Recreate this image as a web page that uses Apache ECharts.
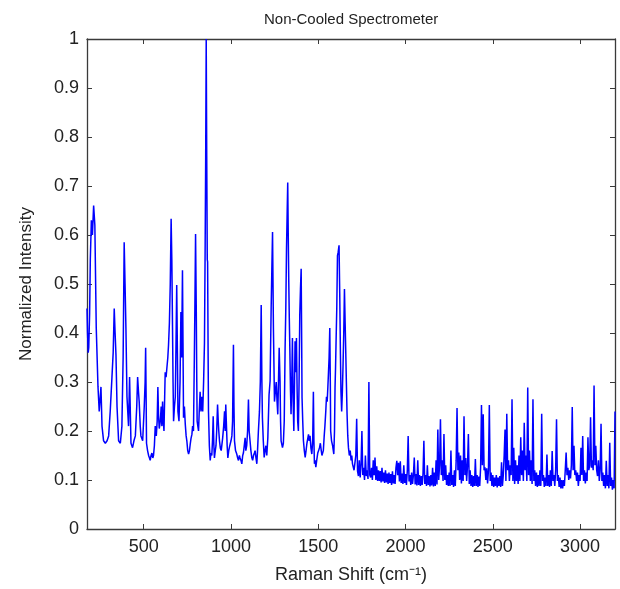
<!DOCTYPE html>
<html>
<head>
<meta charset="utf-8">
<script src="https://cdn.jsdelivr.net/npm/echarts@6/dist/echarts.min.js"></script>
<style>
html,body{margin:0;padding:0;background:#fff;}
#chart{width:620px;height:589px;}
</style>
</head>
<body>
<div id="chart"></div>
<script>
// Traced low-wavenumber region: [Raman shift (cm^-1), normalized intensity]
const headPoints = [
[175,0.45],[178,0.40],[182,0.36],[185,0.37],[190,0.44],[194,0.55],[200,0.63],[206,0.60],[213,0.66],[220,0.62],[228,0.41],[238,0.29],[245,0.24],[255,0.29],[261,0.21],[270,0.18],[280,0.175],[290,0.18],[299,0.19],[308,0.24],[318,0.31],[325,0.36],[331,0.45],[336,0.40],[341,0.355],[347,0.25],[356,0.18],[366,0.175],[375,0.21],[382,0.35],[388,0.585],[393,0.50],[398,0.41],[404,0.27],[413,0.21],[419,0.31],[427,0.175],[436,0.166],[444,0.18],[452,0.19],[460,0.25],[465,0.31],[470,0.28],[474,0.26],[480,0.21],[484,0.19],[494,0.18],[503,0.25],[508,0.30],[511,0.37],[514,0.26],[516,0.175],[522,0.16],[528,0.15],[533,0.145],[537,0.14],[542,0.15],[547,0.155],[552,0.145],[556,0.15],[561,0.17],[566,0.21],[572,0.19],[577,0.22],[581,0.29],[585,0.23],[589,0.205],[595,0.22],[600,0.25],[604,0.21],[608,0.26],[612,0.22],[616,0.20],[620,0.27],[623,0.32],[628,0.31],[633,0.33],[638,0.35],[642,0.375],[647,0.42],[652,0.50],[657,0.633],[661,0.55],[665,0.41],[668,0.30],[671,0.22],[676,0.25],[681,0.27],[685,0.38],[689,0.498],[693,0.36],[696,0.24],[702,0.22],[708,0.30],[713,0.443],[717,0.35],[722,0.528],[725,0.38],[728,0.227],[733,0.25],[738,0.214],[743,0.19],[747,0.18],[752,0.16],[757,0.153],[762,0.16],[766,0.172],[771,0.185],[776,0.193],[780,0.21],[785,0.20],[790,0.35],[793,0.45],[797,0.602],[801,0.45],[804,0.30],[806,0.22],[810,0.21],[814,0.20],[818,0.24],[823,0.28],[828,0.24],[833,0.27],[838,0.24],[843,0.30],[848,0.38],[852,0.58],[855,0.76],[858,1.0],[861,0.76],[864,0.55],[866,0.545],[869,0.35],[871,0.24],[876,0.17],[881,0.14],[885,0.155],[890,0.15],[894,0.18],[898,0.23],[902,0.17],[905,0.145],[910,0.16],[914,0.17],[918,0.20],[923,0.254],[927,0.22],[930,0.20],[934,0.18],[939,0.165],[944,0.16],[952,0.185],[958,0.21],[963,0.24],[967,0.20],[970,0.254],[975,0.20],[978,0.17],[982,0.145],[987,0.16],[993,0.17],[1000,0.18],[1005,0.19],[1009,0.22],[1014,0.376],[1017,0.25],[1020,0.18],[1026,0.16],[1033,0.153],[1038,0.145],[1043,0.14],[1048,0.15],[1052,0.145],[1057,0.14],[1062,0.133],[1067,0.15],[1071,0.155],[1076,0.17],[1081,0.186],[1085,0.16],[1090,0.17],[1095,0.20],[1100,0.264],[1104,0.20],[1109,0.18],[1114,0.16],[1119,0.146],[1124,0.14],[1129,0.15],[1134,0.155],[1138,0.16],[1143,0.145],[1148,0.133],[1152,0.16],[1157,0.20],[1163,0.24],[1168,0.30],[1173,0.457],[1177,0.30],[1180,0.227],[1185,0.18],[1190,0.146],[1195,0.16],[1200,0.17],[1205,0.15],[1211,0.186],[1218,0.274],[1224,0.302],[1230,0.45],[1234,0.53],[1238,0.606],[1243,0.41],[1249,0.26],[1254,0.28],[1259,0.30],[1264,0.26],[1268,0.234],[1272,0.30],[1276,0.37],[1281,0.30],[1284,0.22],[1287,0.18],[1295,0.166],[1300,0.175],[1305,0.22],[1310,0.37],[1314,0.45],[1318,0.572],[1322,0.65],[1325,0.707],[1328,0.60],[1331,0.504],[1334,0.43],[1337,0.37],[1341,0.28],[1344,0.234],[1348,0.30],[1352,0.39],[1356,0.26],[1360,0.20],[1364,0.30],[1367,0.383],[1371,0.32],[1375,0.39],[1379,0.28],[1382,0.22],[1386,0.20],[1390,0.30],[1394,0.437],[1398,0.49],[1402,0.531],[1405,0.38],[1407,0.268],[1411,0.22],[1415,0.18],[1420,0.16],[1425,0.146],[1430,0.16],[1435,0.175],[1440,0.185],[1444,0.193],[1448,0.18],[1453,0.19],[1458,0.165],[1463,0.153],[1468,0.18],[1472,0.28],[1475,0.18],[1478,0.133],[1482,0.14],[1486,0.126],[1491,0.14],[1497,0.155],[1502,0.16],[1507,0.166],[1512,0.175],[1517,0.16],[1521,0.15],[1524,0.146],[1529,0.16],[1534,0.19],[1538,0.21],[1543,0.24],[1547,0.27],[1551,0.26],[1555,0.29],[1558,0.315],[1562,0.35],[1566,0.41],[1569,0.30],[1571,0.20],[1576,0.18],[1582,0.17],[1589,0.153],[1593,0.20],[1596,0.288],[1599,0.33],[1602,0.383],[1606,0.45],[1610,0.558],[1614,0.565],[1619,0.579],[1623,0.48],[1627,0.356],[1630,0.28],[1634,0.24],[1638,0.28],[1642,0.335],[1646,0.40],[1650,0.49],[1654,0.42],[1657,0.37],[1661,0.30],[1665,0.234],[1669,0.19],[1673,0.166],[1678,0.15],[1683,0.16],[1688,0.14],[1692,0.15],[1696,0.133]
];

// High-wavenumber region read on a regular grid
const tailStart = 1700;
const tailStep = 5;
const tailIntensity = [
0.13,0.12,0.135,0.15,0.225,0.118,0.108,0.14,0.105,0.13,
0.20,0.11,0.125,0.10,0.15,0.108,0.12,0.102,0.30,0.11,
0.105,0.125,0.10,0.14,0.11,0.146,0.10,0.128,0.098,0.12,
0.098,0.118,0.095,0.125,0.097,0.115,0.094,0.12,0.095,0.113,
0.092,0.115,0.094,0.112,0.09,0.118,0.093,0.11,0.092,0.125,
0.139,0.11,0.135,0.097,0.138,0.094,0.113,0.092,0.13,0.094,
0.112,0.09,0.118,0.19,0.097,0.11,0.09,0.115,0.092,0.11,
0.146,0.091,0.112,0.089,0.14,0.09,0.11,0.088,0.108,0.09,
0.112,0.18,0.092,0.11,0.088,0.13,0.09,0.108,0.087,0.11,
0.089,0.125,0.087,0.115,0.088,0.14,0.091,0.203,0.1,0.13,
0.224,0.11,0.14,0.098,0.194,0.1,0.13,0.09,0.11,0.088,
0.115,0.088,0.16,0.09,0.11,0.086,0.12,0.088,0.14,0.247,
0.12,0.156,0.1,0.15,0.093,0.14,0.098,0.23,0.11,0.145,
0.098,0.13,0.194,0.092,0.12,0.088,0.11,0.086,0.108,0.088,
0.143,0.088,0.11,0.086,0.107,0.088,0.125,0.253,0.13,0.234,
0.12,0.126,0.1,0.124,0.093,0.12,0.253,0.098,0.115,0.088,
0.11,0.086,0.105,0.088,0.11,0.085,0.105,0.088,0.108,0.086,
0.136,0.088,0.11,0.15,0.203,0.098,0.235,0.12,0.14,0.098,
0.13,0.11,0.265,0.098,0.166,0.092,0.14,0.098,0.13,0.092,
0.15,0.098,0.187,0.11,0.16,0.098,0.217,0.12,0.15,0.098,
0.289,0.11,0.16,0.098,0.14,0.092,0.265,0.098,0.12,0.088,
0.115,0.086,0.11,0.088,0.12,0.088,0.235,0.098,0.11,0.086,
0.105,0.088,0.152,0.088,0.11,0.086,0.12,0.088,0.159,0.098,
0.11,0.088,0.12,0.224,0.098,0.11,0.086,0.105,0.083,0.1,
0.083,0.1,0.088,0.12,0.156,0.11,0.125,0.1,0.12,0.103,
0.13,0.249,0.12,0.17,0.11,0.12,0.098,0.115,0.088,0.11,
0.098,0.166,0.11,0.19,0.098,0.12,0.093,0.115,0.098,0.187,
0.12,0.13,0.228,0.125,0.14,0.12,0.293,0.13,0.17,0.12,
0.108,0.14,0.098,0.12,0.215,0.098,0.115,0.088,0.11,0.083,
0.139,0.088,0.11,0.083,0.176,0.088,0.105,0.08,0.1,0.083,
0.24
];

const xTickValues = [500,1000,1500,2000,2500,3000];
const yMin = 0, yMax = 1, yInterval = 0.1;
const xMin = 175, xMax = 3200;

const seriesData = headPoints.concat(
  tailIntensity.map((v, i) => [tailStart + i * tailStep, v])
);

const font = 'Liberation Sans, Arial, sans-serif';
const axisCol = '#3a3a3a';

const chart = echarts.init(document.getElementById('chart'), null, {renderer: 'canvas'});
chart.setOption({
  animation: false,
  backgroundColor: '#ffffff',
  title: {
    text: 'Non-Cooled Spectrometer',
    left: 259, top: 7,
    textStyle: {fontFamily: font, fontSize: 15, fontWeight: 'normal', color: '#222'}
  },
  grid: {left: 87, right: 5, top: 39, bottom: 57, containLabel: false},
  xAxis: [{
    type: 'value', min: xMin, max: xMax, position: 'bottom',
    name: 'Raman Shift (cm⁻¹)', nameLocation: 'middle', nameGap: 37,
    nameTextStyle: {fontFamily: font, fontSize: 18, color: '#222'},
    axisLine: {show: true, lineStyle: {color: axisCol, width: 1.3}},
    axisTick: {show: true, inside: true, length: 5, customValues: xTickValues, lineStyle: {color: axisCol}},
    axisLabel: {show: true, customValues: xTickValues, margin: 9, fontFamily: font, fontSize: 18, color: '#222',
      formatter: v => String(v)},
    splitLine: {show: false}
  }, {
    type: 'value', min: xMin, max: xMax, position: 'top',
    axisLine: {show: true, onZero: false, lineStyle: {color: axisCol, width: 1.3}},
    axisTick: {show: true, inside: true, length: 5, customValues: xTickValues, lineStyle: {color: axisCol}},
    axisLabel: {show: false},
    splitLine: {show: false}
  }],
  yAxis: [{
    type: 'value', min: yMin, max: yMax, interval: yInterval, position: 'left',
    name: 'Normalized Intensity', nameLocation: 'middle', nameGap: 52, nameRotate: 90,
    nameTextStyle: {fontFamily: font, fontSize: 17, color: '#222'},
    axisLine: {show: true, lineStyle: {color: axisCol, width: 1.3}},
    axisTick: {show: true, inside: true, length: 5, lineStyle: {color: axisCol}},
    axisLabel: {show: true, margin: 8, fontFamily: font, fontSize: 18, color: '#222',
      formatter: v => String(+v.toFixed(1))},
    splitLine: {show: false}
  }, {
    type: 'value', min: yMin, max: yMax, interval: yInterval, position: 'right',
    axisLine: {show: true, onZero: false, lineStyle: {color: axisCol, width: 1.3}},
    axisTick: {show: true, inside: true, length: 5, lineStyle: {color: axisCol}},
    axisLabel: {show: false},
    splitLine: {show: false}
  }],
  series: [{
    type: 'line',
    xAxisIndex: 0, yAxisIndex: 0,
    data: seriesData,
    showSymbol: false,
    symbol: 'none',
    lineStyle: {color: '#0000ff', width: 1.5},
    clip: true
  }]
});
</script>
</body>
</html>
